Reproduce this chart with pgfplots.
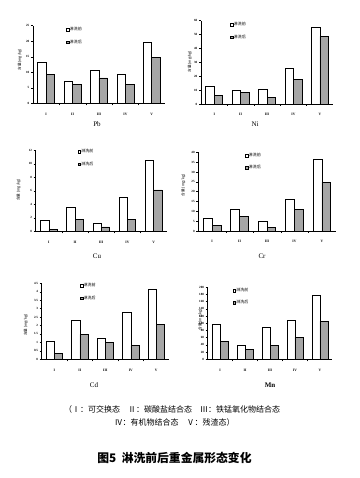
\documentclass[border=0pt]{standalone}
\usepackage{fontspec}
\setmainfont{Liberation Serif}
\newfontfamily\cjk{Noto Sans CJK SC}
\usepackage{pgfplots}
\pgfplotsset{compat=1.18}
\definecolor{aftergray}{HTML}{A6A6A6}
\pgfplotsset{
  panel/.style={
    scale only axis, anchor=south west, clip=false,
    axis lines=left, axis line style={-, line width=0.5pt},
    xmin=0.5, xmax=5.5, ymin=0,
    xtick={1,2,3,4,5}, xticklabels={I,II,III,IV,V},
    major x tick style={draw=none},
    minor xtick={1.5,2.5,3.5,4.5},
    minor tick length=2pt, major tick length=2pt,
    tick align=outside,
    tick style={black, line width=0.4pt},
    /pgf/number format/assume math mode=true,
    yticklabel style={font=\bfseries\fontsize{3.2}{3.2}\selectfont, inner sep=1.5pt},
    xticklabel style={font=\bfseries\fontsize{3.6}{3.6}\selectfont, yshift=-4pt},
    ylabel={含量 (mg/kg)},
    ylabel style={font=\cjk\fontsize{3.6}{3.6}\selectfont, anchor=center},
    ybar, bar width=0.32,
    legend style={draw=none, fill=none, inner sep=0pt, anchor=north west,
      font=\cjk\fontsize{4}{4}\selectfont, row sep=6.3pt,
      nodes={inner sep=0.6pt}},
    legend cell align=left,
  },
  before/.style={draw=black, fill=white, line width=0.6pt, bar shift=-0.16,
    legend image code/.code={\draw[draw=black, fill=white, line width=0.4pt] (0pt,-1.3pt) rectangle (2.6pt,1.3pt);}},
  after/.style={draw=black, fill=aftergray, line width=0.6pt, bar shift=0.16,
    legend image code/.code={\draw[draw=black, fill=aftergray, line width=0.4pt] (0pt,-1.3pt) rectangle (2.6pt,1.3pt);}},
}
\begin{document}
\begin{tikzpicture}
\useasboundingbox (0,0) rectangle (359pt,478pt);
% Pb
\begin{axis}[panel, at={(33pt,374.7pt)}, width=132pt, height=77.6pt,
  ymax=25, ytick={0,5,...,25},
  ylabel style={at={(axis description cs:-0.1,0.56)}},
  legend style={at={(axis description cs:0.25,0.99)}}]
\addplot[before] coordinates {(1,13.2) (2,7.2) (3,10.5) (4,9.5) (5,19.8)};
\addplot[after] coordinates {(1,9.4) (2,6.0) (3,8.2) (4,6.0) (5,14.9)};
\legend{淋洗前,淋洗后}
\end{axis}
% Ni
\begin{axis}[panel, at={(201pt,374pt)}, width=132pt, height=83.3pt,
  ymax=60, ytick={0,10,...,60},
  ylabel style={at={(axis description cs:-0.085,0.51)}},
  legend style={at={(axis description cs:0.22,0.99)}}]
\addplot[before] coordinates {(1,12.7) (2,9.8) (3,10.6) (4,25.4) (5,55.6)};
\addplot[after] coordinates {(1,6.2) (2,8.2) (3,4.8) (4,17.7) (5,48.7)};
\legend{淋洗前,淋洗后}
\end{axis}
% Cu
\begin{axis}[panel, at={(35.7pt,246.7pt)}, width=131pt, height=81pt,
  ymax=12, ytick={0,2,...,12},
  ylabel style={at={(axis description cs:-0.13,0.51)}},
  legend style={at={(axis description cs:0.32,1.02)}}]
\addplot[before] coordinates {(1,1.58) (2,3.56) (3,1.19) (4,5.04) (5,10.5)};
\addplot[after] coordinates {(1,0.3) (2,1.78) (3,0.64) (4,1.73) (5,6.12)};
\legend{淋洗前,淋洗后}
\end{axis}
% Cr
\begin{axis}[panel, at={(198.3pt,247pt)}, width=137.4pt, height=78.7pt,
  ymax=40, ytick={0,5,...,40},
  ylabel style={at={(axis description cs:-0.11,0.58)}},
  legend style={at={(axis description cs:0.34,1.0)}}]
\addplot[before] coordinates {(1,6.4) (2,10.8) (3,4.9) (4,16.3) (5,36.4)};
\addplot[after] coordinates {(1,2.7) (2,7.3) (3,2.0) (4,11.0) (5,24.9)};
\legend{淋洗前,淋洗后}
\end{axis}
% Cd
\begin{axis}[panel, at={(41.7pt,118.7pt)}, width=127.3pt, height=76pt,
  ymax=4.5, ytick={0,0.5,...,4.5},
  ylabel style={at={(axis description cs:-0.125,0.45)}},
  legend style={at={(axis description cs:0.3,1.01)}}]
\addplot[before] coordinates {(1,1.09) (2,2.29) (3,1.25) (4,2.79) (5,4.13)};
\addplot[after] coordinates {(1,0.36) (2,1.48) (3,1.01) (4,0.81) (5,2.09)};
\legend{淋洗前,淋洗后}
\end{axis}
% Mn
\begin{axis}[panel, at={(207.7pt,118.7pt)}, width=124.6pt, height=72pt,
  ymax=200, ytick={0,20,...,200},
  ylabel style={at={(axis description cs:-0.06,0.55)}},
  legend style={at={(axis description cs:0.2,1.0)}}]
\addplot[before] coordinates {(1,98) (2,40) (3,88) (4,108) (5,178)};
\addplot[after] coordinates {(1,50) (2,27) (3,39) (4,61) (5,105)};
\legend{淋洗前,淋洗后}
\end{axis}
% panel titles
\node[font=\fontsize{7}{7}\selectfont] at (97pt,354pt) {Pb};
\node[font=\fontsize{7}{7}\selectfont] at (255pt,354pt) {Ni};
\node[font=\fontsize{7}{7}\selectfont] at (97pt,221.5pt) {Cu};
\node[font=\fontsize{7}{7}\selectfont] at (262pt,222pt) {Cr};
\node[font=\fontsize{7}{7}\selectfont] at (94pt,93pt) {Cd};
\node[font=\bfseries\fontsize{7}{7}\selectfont] at (270pt,93pt) {Mn};
% captions
\node[font=\cjk\fontsize{8}{8}\selectfont] at (172pt,69pt) {（Ⅰ：可交换态\quad Ⅱ：碳酸盐结合态\quad Ⅲ：铁锰氧化物结合态};
\node[font=\cjk\fontsize{8}{8}\selectfont] at (174.5pt,55.3pt) {Ⅳ：有机物结合态\quad Ⅴ：残渣态）};
\node[font=\cjk\bfseries\fontsize{11.8}{11.8}\selectfont] at (174.5pt,20.5pt) {图5\ \ 淋洗前后重金属形态变化};
\end{tikzpicture}
\end{document}
